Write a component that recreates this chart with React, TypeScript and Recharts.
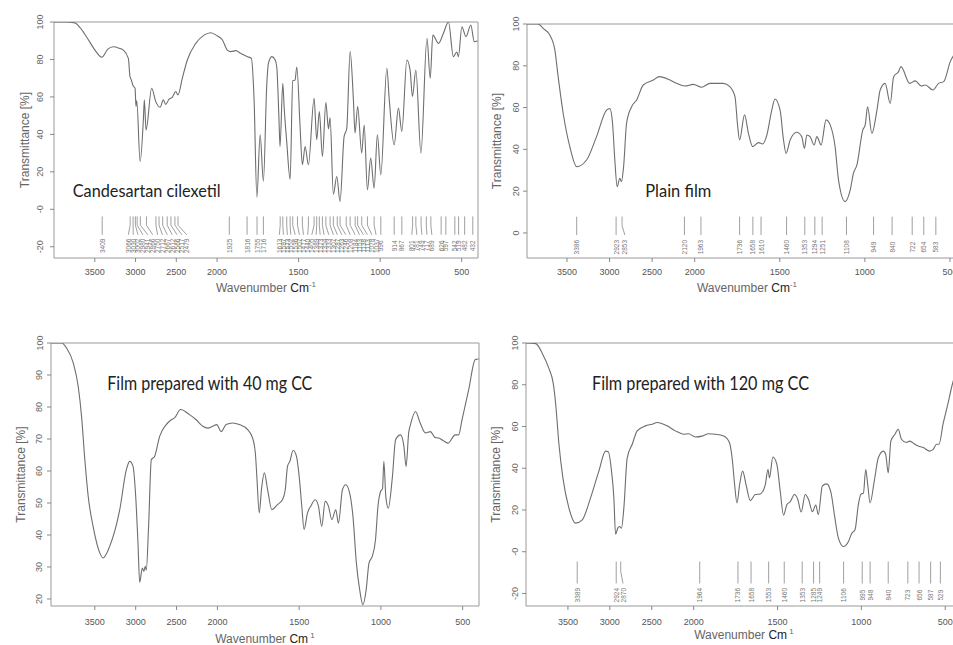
import React from 'react';
import {
  ComposedChart,
  Line,
  Scatter,
  XAxis,
  YAxis,
  ReferenceArea,
  ReferenceLine,
} from 'recharts';

// above 2000 cm-1 the instrument plots at half scale
const toAxis = (w: number) => (w <= 2000 ? w : 2000 + (w - 2000) / 2);
const fromAxis = (t: number) => (t <= 2000 ? t : 2000 + (t - 2000) * 2);

const waveTicks = [3500, 3000, 2500, 2000, 1500, 1000, 500];

// Candesartan cilexetil
const ccWave = [
  4000, 3850, 3742, 3680, 3600, 3497, 3414, 3340, 3272, 3200, 3150, 3088, 3068, 3055, 3030, 3006,
  2994, 2985, 2944, 2904, 2892, 2871, 2802, 2752, 2699, 2659, 2630, 2589, 2548, 2507, 2479, 2426,
  2365, 2262, 2160, 2077, 1998, 1967, 1937, 1916, 1885, 1855, 1814, 1790, 1773, 1756, 1736, 1716,
  1695, 1685, 1664, 1645, 1634, 1621, 1614, 1597, 1589, 1573, 1552, 1536, 1522, 1511, 1491, 1477,
  1460, 1440, 1405, 1389, 1373, 1354, 1333, 1317, 1307, 1287, 1266, 1246, 1221, 1205, 1184, 1164,
  1154, 1138, 1113, 1098, 1078, 1058, 1037, 1017, 996, 959, 944, 914, 888, 867, 836, 816, 802, 781,
  750, 713, 693, 677, 642, 612, 581, 551, 530, 520, 499, 474, 444, 423, 403,
];
const ccTrans = [
  100, 100, 99.5, 97, 92, 85, 81.2, 85.5, 86.8, 86, 85, 80.6, 70.8, 69.5, 66, 64.6,
  54.8, 58, 25.5, 47.8, 58.4, 42.4, 64.6, 57.5, 54.5, 58.4, 56, 58.8, 59.9, 62.9, 61.1, 70,
  79.7, 88.6, 93, 94.3, 92.5, 90.4, 85, 84.2, 84.7, 83.3, 81.5, 80.6, 58.4, 6.5, 39.8, 15,
  67, 78, 81.5, 80, 76, 49.5, 33.5, 67.3, 54.9, 36.2, 16, 68.6, 69, 76, 44, 23.8,
  33.5, 23.8, 59.3, 37.1, 52.2, 28.2, 57, 43, 48.8, 8, 17.5, 4.2, 38.9, 43, 84.2, 58.4,
  40.7, 54.9, 30, 45, 10.4, 27.3, 11.3, 39.8, 18.4, 75.3, 58.4, 34.4, 54, 41.5, 79.7, 74, 60.2, 74.4,
  30, 91.3, 70, 93, 88.6, 94, 100, 81.5, 84, 81.5, 97.5, 92.2, 98.4, 89.5, 90,
];
const ccPeaks = [
  3409, 3066, 3030, 3002, 2980, 2941, 2866, 2750, 2712, 2667, 2612, 2566, 2517, 2479, 1925, 1816,
  1755, 1716, 1613, 1597, 1573, 1552, 1536, 1507, 1477, 1440, 1405, 1389, 1373, 1354, 1333, 1307,
  1287, 1263, 1246, 1208, 1184, 1153, 1138, 1113, 1078, 1037, 996, 914, 867, 801, 781, 749, 717,
  689, 626, 597, 542, 519, 482, 432,
];
const ccPeakSlots = [
  3409, 3088, 3028, 2970, 2910, 2850, 2790, 2730, 2670, 2610, 2550, 2490, 2432, 2372, 1925, 1816,
  1755, 1716, 1618, 1593, 1569, 1548, 1521, 1495, 1470, 1444, 1419, 1393, 1368, 1344, 1315, 1287,
  1262, 1235, 1210, 1184, 1153, 1127, 1102, 1078, 1051, 1025, 996, 914, 867, 806, 775, 744, 713,
  683, 626, 597, 542, 519, 482, 432,
];
const ccYTicks = [-20, 0, 20, 40, 60, 80, 100];
const ccYLabels = ['-20', '-0', '20', '40', '60', '80', '100'];

// Plain film
const pfWave = [
  4000, 3839, 3780, 3702, 3643, 3604, 3545, 3467, 3386, 3270, 3153, 3035, 2996, 2965, 2938, 2910,
  2880, 2860, 2835, 2800, 2741, 2682, 2604, 2486, 2416, 2290, 2212, 2114, 2016, 1959, 1910, 1832,
  1793, 1763, 1749, 1736, 1707, 1684, 1659, 1625, 1600, 1576, 1547, 1528, 1498, 1478, 1463, 1439,
  1400, 1371, 1355, 1341, 1322, 1298, 1282, 1257, 1228, 1200, 1175, 1155, 1116, 1086, 1067, 1047,
  1012, 998, 984, 959, 929, 910, 881, 851, 831, 802, 788, 737, 704, 669, 645, 600, 567, 537, 498,
  477, 440, 400,
];
const pfTrans = [
  100, 100, 97.9, 94.7, 87.6, 74.8, 57.3, 41.3, 31.7, 34.9, 46.1, 58.8, 59.5, 52.5, 34.9, 22.1,
  26.2, 24.5, 31.7, 52.5, 60.4, 63.6, 70.8, 73.2, 74.8, 73.2, 71.6, 70.3, 71.1, 69.7, 71.6, 71.6,
  70, 65.2, 52.5, 44.5, 56.5, 47.7, 41.3, 43.2, 42.6, 46.8, 58.8, 64.1, 58.8, 44.5, 38.1, 44.5,
  48.2, 46.1, 40.5, 46.9, 46.1, 42.1, 46.1, 42.1, 54.1, 50.9, 41.3, 25.4, 15, 20.6, 28.6, 32.5,
  49.3, 51.7, 60.4, 47.7, 58.8, 68.4, 71.6, 62, 74.8, 77.2, 79.6, 71.6, 72.8, 70.3, 70.8, 68.4, 71.6, 72.4, 82,
  85.2, 90, 93,
];
const pfPeaks = [3386, 2923, 2853, 2120, 1963, 1736, 1658, 1610, 1460, 1353, 1294, 1251, 1108, 949, 840, 722, 654, 583];
const pfPeakSlots = [3386, 2923, 2820, 2120, 1963, 1736, 1658, 1610, 1460, 1353, 1294, 1251, 1108, 949, 840, 722, 654, 583];
const pfYTicks = [0, 20, 40, 60, 80, 100];
const pfYLabels = ['0', '20', '40', '60', '80', '100'];

// Film prepared with 40 mg CC
const f40Wave = [
  4036, 3906, 3845, 3764, 3703, 3662, 3622, 3581, 3521, 3439, 3399, 3317, 3195, 3114, 3073, 3033,
  3000, 2972, 2951, 2919, 2900, 2883, 2870, 2842, 2809, 2768, 2707, 2626, 2565, 2524, 2451, 2341,
  2260, 2179, 2118, 2057, 2008, 1977, 1947, 1907, 1866, 1815, 1785, 1768, 1759, 1744, 1731, 1713,
  1693, 1667, 1633, 1602, 1585, 1571, 1557, 1537, 1516, 1500, 1484, 1470, 1449, 1429, 1402, 1382,
  1362, 1341, 1321, 1300, 1276, 1260, 1235, 1215, 1191, 1171, 1150, 1130, 1110, 1090, 1073, 1053,
  1033, 1018, 1002, 990, 982, 970, 955, 930, 910, 880, 860, 846, 830, 819, 788, 760, 727, 697, 670,
  646, 620, 590, 545, 524, 504, 463, 423, 402,
];
const f40Trans = [
  100, 100, 98.4, 93.8, 86.4, 77, 63.5, 52.1, 42.7, 34.4, 32.8, 36.5, 47.9, 60.4, 63, 61.5,
  52.1, 37.5, 25.2, 29.7, 28.6, 30.2, 29, 42.7, 63.5, 64.6, 70.8, 74.5, 76, 76.6, 79.2, 77.6,
  76, 74, 73.4, 74, 74.5, 72.3, 74.5, 75, 74.5, 72.9, 70.3, 65.6, 58.3, 46.9, 54, 59.4,
  54.2, 47.9, 49.5, 51, 54.2, 61.5, 63, 66.5, 64.5, 58.3, 49, 41.7, 46.9, 49, 51, 49,
  42.7, 50.5, 49, 44.8, 47.9, 43.7, 54.2, 55.7, 53.1, 45.8, 31.2, 22.9, 18.2, 22.9, 31.2, 33.3,
  38.5, 49, 53.6, 54.5, 63, 52, 48.4, 58, 69.8, 71.3, 68, 61.4, 72, 74.5, 78.6, 75, 71.9, 72.3, 70.5,
  70.3, 69.5, 68.7, 71.3, 71.3, 76, 85.4, 94.8, 95,
];
const f40YTicks = [20, 30, 40, 50, 60, 70, 80, 90, 100];
const f40YLabels = ['20', '30', '40', '50', '60', '70', '80', '90', '100'];

// Film prepared with 120 mg CC
const f120Wave = [
  4000, 3884, 3804, 3726, 3674, 3646, 3607, 3560, 3488, 3409, 3329, 3230, 3131, 3051, 3019, 2980,
  2952, 2932, 2905, 2885, 2861, 2833, 2793, 2733, 2674, 2575, 2496, 2436, 2317, 2218, 2119, 2060,
  1990, 1950, 1911, 1871, 1821, 1787, 1771, 1756, 1742, 1726, 1708, 1688, 1662, 1633, 1603, 1573,
  1557, 1548, 1528, 1504, 1484, 1464, 1444, 1425, 1399, 1379, 1359, 1335, 1315, 1292, 1272, 1257,
  1233, 1207, 1181, 1161, 1137, 1107, 1077, 1057, 1038, 1018, 1002, 988, 974, 962, 948, 923, 899,
  869, 855, 840, 824, 800, 780, 761, 731, 711, 681, 661, 631, 592, 572, 552, 537, 513, 484, 462,
  430, 400,
];
const f120Trans = [
  100, 99.7, 94.9, 87.7, 80.4, 70.8, 51.5, 35.4, 20.9, 13.7, 15.3, 25.8, 38.6, 48.2, 47.9, 38.6,
  25.8, 8.4, 11.3, 12.1, 11.3, 20.9, 45, 51.5, 57.9, 60.3, 61.1, 61.9, 60.3, 57.9, 56.3, 56.5,
  55, 55.4, 56.5, 56.3, 55.4, 52.3, 45, 32.2, 23.4, 32.2, 38.6, 32.2, 24.5, 27.4, 27.7, 32.2,
  39.4, 35.4, 45.4, 41.9, 29, 17.5, 22.6, 23.9, 27.4, 25, 19, 27.4, 25, 19.2, 22.4, 17.8,
  31.5, 32.5, 28.2, 17.8, 6.5, 2.5, 4.9, 8.9, 10.5, 22.6, 27.7, 28, 39.4, 32, 23.4, 33.9, 45,
  48.2, 46.6, 37.8, 53.1, 56.3, 58.7, 53.9, 52.3, 53, 51.5, 50.7, 49.9, 48.2, 49, 51.5, 51.5, 61.1, 70.8, 78.8,
  88, 95,
];
const f120Peaks = [3389, 2924, 2870, 1964, 1736, 1658, 1553, 1460, 1353, 1285, 1249, 1106, 995, 948, 840, 723, 656, 587, 529];
const f120PeakSlots = [3389, 2924, 2843, 1964, 1736, 1658, 1553, 1460, 1353, 1285, 1249, 1106, 995, 948, 840, 723, 656, 587, 529];
const f120YTicks = [-20, 0, 20, 40, 60, 80, 100];
const f120YLabels = ['-20', '-0', '20', '40', '60', '80', '100'];

const axisFont = '"Liberation Sans", Arial, sans-serif';

type PeakY = { top: number; mid: number; bottom: number; label: number };

type PanelProps = {
  left: number;
  top: number;
  width: number;
  height: number;
  yAxisWidth: number;
  marginTop: number;
  xAxisHeight: number;
  xDomain: [number, number];
  yDomain: [number, number];
  yTicks: number[];
  yLabels: string[];
  wave: number[];
  trans: number[];
  peaks?: number[];
  slots?: number[];
  peakY?: PeakY;
  xTickMargin: number;
  yTickMargin: number;
  xTitleDy: number;
  yTitleX: number;
  sup: string;
};

function YTick(props: any) {
  const { x, y, payload, labels, ticks } = props;
  const i = ticks.indexOf(payload.value);
  const text = i >= 0 ? labels[i] : String(payload.value);
  return (
    <text
      x={x}
      y={y}
      transform={`rotate(-90 ${x} ${y})`}
      textAnchor="middle"
      fontSize={9}
      fill="#666"
      fontFamily={axisFont}
    >
      {text}
    </text>
  );
}

function XTitle(props: any) {
  const vb = props.viewBox || { x: 0, y: 0, width: 0, height: 0 };
  return (
    <text
      x={vb.x + vb.width / 2}
      y={vb.y + props.dy}
      textAnchor="middle"
      fontSize={12}
      fill="#666"
      fontFamily={axisFont}
    >
      <tspan>Wavenumber </tspan>
      <tspan fill="#222">Cm</tspan>
      <tspan fontSize={8} dy={-5}>{props.sup}</tspan>
    </text>
  );
}

function YTitle(props: any) {
  const vb = props.viewBox || { x: 0, y: 0, width: 0, height: 0 };
  const cx = vb.x + props.cx;
  const cy = vb.y + vb.height / 2;
  return (
    <text
      x={cx}
      y={cy}
      transform={`rotate(-90 ${cx} ${cy})`}
      textAnchor="middle"
      dominantBaseline="central"
      fontSize={12}
      fill="#666"
      fontFamily={axisFont}
    >
      Transmittance [%]
    </text>
  );
}

function PeakText(props: any) {
  const { cx, cy, payload } = props;
  if (cx == null || cy == null) return null;
  return (
    <text
      x={cx}
      y={cy}
      transform={`rotate(-90 ${cx} ${cy})`}
      textAnchor="middle"
      dominantBaseline="central"
      fontSize={6.5}
      fill="#777"
      fontFamily={axisFont}
    >
      {payload.text}
    </text>
  );
}

function Panel(p: PanelProps) {
  const rows = p.wave.map((w, i) => ({ t: toAxis(w), y: p.trans[i] }));
  const peaks = p.peaks ?? [];
  const slots = p.slots ?? [];
  const py = p.peakY;
  const labelRows = py
    ? peaks.map((v, i) => ({ t: toAxis(slots[i]), y: py.label, text: String(v) }))
    : [];

  return (
    <div style={{ position: 'absolute', left: p.left, top: p.top }}>
      <ComposedChart
        width={p.width}
        height={p.height}
        margin={{ top: p.marginTop, right: 2, bottom: 0, left: 0 }}
      >
        <XAxis
          type="number"
          dataKey="t"
          domain={p.xDomain}
          reversed
          allowDataOverflow
          ticks={waveTicks.map(toAxis)}
          interval={0}
          tickFormatter={(t: number) => String(Math.round(fromAxis(t)))}
          height={p.xAxisHeight}
          axisLine={false}
          tickLine={{ stroke: '#888' }}
          tickSize={4}
          tickMargin={p.xTickMargin}
          tick={{ fontSize: 9, fill: '#555', fontFamily: axisFont }}
          label={(lp: any) => <XTitle {...lp} dy={p.xTitleDy} sup={p.sup} />}
        />
        <YAxis
          type="number"
          domain={p.yDomain}
          ticks={p.yTicks}
          interval={0}
          allowDataOverflow
          width={p.yAxisWidth}
          axisLine={false}
          tickLine={{ stroke: '#888' }}
          tickSize={4}
          tickMargin={p.yTickMargin}
          tick={(tp: any) => <YTick {...tp} ticks={p.yTicks} labels={p.yLabels} />}
          label={(lp: any) => <YTitle {...lp} cx={p.yTitleX} />}
        />
        <ReferenceArea
          x1={p.xDomain[0]}
          x2={p.xDomain[1]}
          y1={p.yDomain[0]}
          y2={p.yDomain[1]}
          fill="none"
          stroke="#9a9a9a"
          strokeWidth={1}
          ifOverflow="visible"
        />
        {py &&
          peaks.map((v, i) =>
            slots[i] === v ? (
              <ReferenceLine
                key={`s${i}`}
                segment={[
                  { x: toAxis(v), y: py.top },
                  { x: toAxis(v), y: py.bottom },
                ]}
                stroke="#888"
                strokeWidth={0.8}
              />
            ) : (
              <React.Fragment key={`b${i}`}>
                <ReferenceLine
                  segment={[
                    { x: toAxis(v), y: py.top },
                    { x: toAxis(v), y: py.mid },
                  ]}
                  stroke="#888"
                  strokeWidth={0.8}
                />
                <ReferenceLine
                  segment={[
                    { x: toAxis(v), y: py.mid },
                    { x: toAxis(slots[i]), y: py.bottom },
                  ]}
                  stroke="#888"
                  strokeWidth={0.8}
                />
              </React.Fragment>
            )
          )}
        {py && (
          <Scatter
            data={labelRows}
            dataKey="y"
            isAnimationActive={false}
            shape={(sp: any) => <PeakText {...sp} />}
          />
        )}
        <Line
          data={rows}
          dataKey="y"
          type="monotone"
          stroke="#6e6e6e"
          strokeWidth={1.1}
          dot={false}
          activeDot={false}
          isAnimationActive={false}
        />
      </ComposedChart>
    </div>
  );
}

const titleFont = 'Lato, "Open Sans", sans-serif';

export default function App() {
  return (
    <div
      style={{
        position: 'absolute',
        left: 0,
        top: 0,
        width: 953,
        height: 645,
        overflow: 'hidden',
        background: '#fff',
      }}
    >
      <Panel
        left={0}
        top={0}
        width={480}
        height={300}
        yAxisWidth={54}
        marginTop={22}
        xAxisHeight={42}
        xDomain={[400, 3000]}
        yDomain={[-26, 100]}
        yTicks={ccYTicks}
        yLabels={ccYLabels}
        wave={ccWave}
        trans={ccTrans}
        peaks={ccPeaks}
        slots={ccPeakSlots}
        peakY={{ top: -3.8, mid: -8.5, bottom: -13.6, label: -19.5 }}
        xTickMargin={7}
        yTickMargin={7}
        xTitleDy={34}
        yTitleX={25}
        sup="-1"
      />
      <Panel
        left={478}
        top={0}
        width={491}
        height={300}
        yAxisWidth={49}
        marginTop={24}
        xAxisHeight={42}
        xDomain={[400, 2985]}
        yDomain={[-12, 100]}
        yTicks={pfYTicks}
        yLabels={pfYLabels}
        wave={pfWave}
        trans={pfTrans}
        peaks={pfPeaks}
        slots={pfPeakSlots}
        peakY={{ top: 7.8, mid: 3.5, bottom: -1, label: -6.8 }}
        xTickMargin={7}
        yTickMargin={4}
        xTitleDy={34}
        yTitleX={19}
        sup="-1"
      />
      <Panel
        left={0}
        top={310}
        width={481}
        height={335}
        yAxisWidth={51}
        marginTop={33}
        xAxisHeight={39}
        xDomain={[400, 3018]}
        yDomain={[17.8, 100]}
        yTicks={f40YTicks}
        yLabels={f40YLabels}
        wave={f40Wave}
        trans={f40Trans}
        xTickMargin={9}
        yTickMargin={4.5}
        xTitleDy={37}
        yTitleX={21}
        sup=" 1"
      />
      <Panel
        left={478}
        top={310}
        width={486}
        height={335}
        yAxisWidth={48}
        marginTop={33}
        xAxisHeight={39}
        xDomain={[400, 3000]}
        yDomain={[-26, 100]}
        yTicks={f120YTicks}
        yLabels={f120YLabels}
        wave={f120Wave}
        trans={f120Trans}
        peaks={f120Peaks}
        slots={f120PeakSlots}
        peakY={{ top: -4.7, mid: -9.5, bottom: -15.2, label: -20.8 }}
        xTickMargin={9}
        yTickMargin={4}
        xTitleDy={33}
        yTitleX={18}
        sup=" 1"
      />
      <svg
        width={953}
        height={645}
        style={{ position: 'absolute', left: 0, top: 0, pointerEvents: 'none' }}
      >
        <text x={72.7} y={197} fontSize={18} textLength={148} lengthAdjust="spacingAndGlyphs" fontFamily={titleFont} fill="#222">
          Candesartan cilexetil
        </text>
        <text x={645.3} y={196.7} fontSize={18} textLength={66} lengthAdjust="spacingAndGlyphs" fontFamily={titleFont} fill="#222">
          Plain film
        </text>
        <text x={107.3} y={390} fontSize={19} textLength={205} lengthAdjust="spacingAndGlyphs" fontFamily={titleFont} fill="#222">
          Film prepared with 40 mg CC
        </text>
        <text x={592} y={390} fontSize={19} textLength={217} lengthAdjust="spacingAndGlyphs" fontFamily={titleFont} fill="#222">
          Film prepared with 120 mg CC
        </text>
      </svg>
    </div>
  );
}
